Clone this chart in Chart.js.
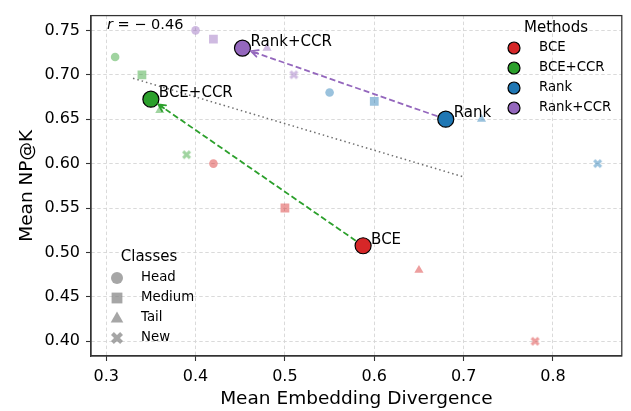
<!doctype html>
<html lang="en">
<head>
<meta charset="utf-8">
<title>NP@K vs embedding divergence</title>
<script src="https://cdn.jsdelivr.net/npm/chart.js@4.4.1/dist/chart.umd.min.js"></script>
<style>
  html, body { margin: 0; padding: 0; background: #fff; }
  canvas { display: block; }
</style>
</head>
<body>
<canvas id="myChart" width="631" height="411"></canvas>
<script>
// data
const methods = ['BCE', 'BCE+CCR', 'Rank', 'Rank+CCR'];
const classes = ['Head', 'Medium', 'Tail', 'New'];

// per class, in order Head, Medium, Tail, New
const divBCE = [0.42, 0.50, 0.65, 0.78];
const npkBCE = [0.60, 0.55, 0.48, 0.40];
const divBCECCR = [0.31, 0.34, 0.36, 0.39];
const npkBCECCR = [0.72, 0.70, 0.66, 0.61];
const divRank = [0.55, 0.60, 0.72, 0.85];
const npkRank = [0.68, 0.67, 0.65, 0.60];
const divRankCCR = [0.40, 0.42, 0.48, 0.51];
const npkRankCCR = [0.75, 0.74, 0.73, 0.70];

const trendX = [0.33, 0.70];
const trendY = [0.696, 0.585];
const corrText = '= − 0.46';

const xTicks = [0.3, 0.4, 0.5, 0.6, 0.7, 0.8];
const yTicks = [0.40, 0.45, 0.50, 0.55, 0.60, 0.65, 0.70, 0.75];

// arrows: from method -> to method
const arrowFrom = [0, 2];
const arrowTo = [1, 3];

const colors = ['#d62728', '#2ca02c', '#1f77b4', '#9467bd'];
const lightColors = ['rgba(214,39,40,0.45)', 'rgba(44,160,44,0.45)', 'rgba(31,119,180,0.45)', 'rgba(148,103,189,0.45)'];
const FONT = "'DejaVu Sans', sans-serif";

const allDiv = [divBCE, divBCECCR, divRank, divRankCCR];
const allNpk = [npkBCE, npkBCECCR, npkRank, npkRankCCR];
const mean = a => a.reduce((s, v) => s + v, 0) / a.length;
const meanX = allDiv.map(mean);
const meanY = allNpk.map(mean);

// filled "X" marker like matplotlib's 'X'
function xMarker(color, box) {
    const size = Math.ceil(box) + 2;
    const c = document.createElement('canvas');
    c.width = size; c.height = size;
    const g = c.getContext('2d');
    const T = box * 0.34;
    const L = box * Math.SQRT2 - T;
    g.translate(size / 2, size / 2);
    g.rotate(Math.PI / 4);
    g.fillStyle = color;
    g.beginPath();
    g.rect(-L / 2, -T / 2, L, T);
    g.rect(-T / 2, -L / 2, T, L);
    g.fill();
    return c;
}

const datasets = [];

// method means (on top)
datasets.push({
    label: 'methods',
    data: meanX.map((x, i) => ({ x: x, y: meanY[i] })),
    pointRadius: 8,
    pointBackgroundColor: colors,
    pointBorderColor: '#000',
    pointBorderWidth: 1.2,
    order: 0
});

// arrows
arrowFrom.forEach((f, k) => {
    const t = arrowTo[k];
    datasets.push({
        label: 'arrow' + k,
        data: [{ x: meanX[f], y: meanY[f] }, { x: meanX[t], y: meanY[t] }],
        showLine: true,
        borderColor: colors[t],
        borderWidth: 1.8,
        borderDash: [6, 3],
        pointRadius: 0,
        order: 1
    });
});

// per class points
allDiv.forEach((xs, m) => {
    datasets.push({
        label: methods[m] + ' classes',
        data: xs.map((x, i) => ({ x: x, y: allNpk[m][i] })),
        pointStyle: ['circle', 'rect', 'triangle', xMarker(lightColors[m], 9)],
        pointRadius: [4.3, 6.2, 5.3, 5],
        pointBackgroundColor: lightColors[m],
        pointBorderWidth: 0,
        order: 2
    });
});

// correlation trend
datasets.push({
    label: 'trend',
    data: trendX.map((x, i) => ({ x: x, y: trendY[i] })),
    showLine: true,
    borderColor: '#6f6f6f',
    borderWidth: 1.5,
    borderDash: [1.5, 3],
    pointRadius: 0,
    order: 3
});

function drawMarker(ctx, style, x, y, r, fill, stroke) {
    ctx.save();
    ctx.fillStyle = fill;
    ctx.beginPath();
    if (style === 'circle') {
        ctx.arc(x, y, r, 0, Math.PI * 2);
    } else if (style === 'rect') {
        ctx.rect(x - r * 0.9, y - r * 0.9, r * 1.8, r * 1.8);
    } else if (style === 'triangle') {
        ctx.moveTo(x, y - r * 1.1);
        ctx.lineTo(x + r * 1.05, y + r * 0.75);
        ctx.lineTo(x - r * 1.05, y + r * 0.75);
        ctx.closePath();
    }
    if (style === 'x') {
        const m = xMarker(fill, r * 2);
        ctx.drawImage(m, x - m.width / 2, y - m.height / 2);
    } else {
        ctx.fill();
        if (stroke) {
            ctx.strokeStyle = stroke;
            ctx.lineWidth = 1.2;
            ctx.stroke();
        }
    }
    ctx.restore();
}

const extras = {
    id: 'extras',
    afterDatasetsDraw(chart) {
        const ctx = chart.ctx;
        const xs = chart.scales.x, ys = chart.scales.y;
        // arrow heads (open "->" style)
        arrowFrom.forEach((f, k) => {
            const t = arrowTo[k];
            const sx = xs.getPixelForValue(meanX[f]), sy = ys.getPixelForValue(meanY[f]);
            const tx = xs.getPixelForValue(meanX[t]), ty = ys.getPixelForValue(meanY[t]);
            const d = Math.hypot(tx - sx, ty - sy);
            const ux = (tx - sx) / d, uy = (ty - sy) / d;
            const px = tx - ux * 9, py = ty - uy * 9;
            const bx = px - ux * 7, by = py - uy * 7;
            ctx.save();
            ctx.strokeStyle = colors[t];
            ctx.lineWidth = 1.8;
            ctx.lineCap = 'round';
            ctx.lineJoin = 'miter';
            ctx.beginPath();
            ctx.moveTo(bx - uy * 3.5, by + ux * 3.5);
            ctx.lineTo(px, py);
            ctx.lineTo(bx + uy * 3.5, by - ux * 3.5);
            ctx.moveTo(px, py);
            ctx.lineTo(bx, by);
            ctx.stroke();
            ctx.restore();
        });
        // method labels
        ctx.save();
        ctx.fillStyle = '#000';
        ctx.font = '15px ' + FONT;
        ctx.textAlign = 'left';
        ctx.textBaseline = 'middle';
        methods.forEach((name, i) => {
            const px = xs.getPixelForValue(meanX[i]), py = ys.getPixelForValue(meanY[i]);
            ctx.fillText(name, px + 8, py - 6);
        });
        // correlation
        ctx.font = 'italic 14.5px ' + FONT;
        ctx.fillText('r', 107, 25);
        const rw = ctx.measureText('r').width;
        ctx.font = '14.5px ' + FONT;
        ctx.fillText(' ' + corrText, 107 + rw, 25);
        ctx.restore();
    },
    afterDraw(chart) {
        const ctx = chart.ctx;
        const a = chart.chartArea;
        ctx.save();
        ctx.strokeStyle = '#333';
        ctx.lineWidth = 1.25;
        ctx.strokeRect(a.left, a.top, a.right - a.left, a.bottom - a.top);

        // Methods legend
        ctx.fillStyle = '#000';
        ctx.textBaseline = 'middle';
        ctx.font = '15px ' + FONT;
        ctx.textAlign = 'center';
        ctx.fillText('Methods', 556, 28);
        ctx.font = '13.3px ' + FONT;
        ctx.textAlign = 'left';
        methods.forEach((name, i) => {
            const y = 48 + i * 20;
            drawMarker(ctx, 'circle', 514, y, 6, colors[i], '#000');
            ctx.fillStyle = '#000';
            ctx.fillText(name, 539, y);
        });

        // Classes legend
        ctx.font = '15px ' + FONT;
        ctx.textAlign = 'center';
        ctx.fillText('Classes', 149, 257);
        ctx.font = '13.3px ' + FONT;
        ctx.textAlign = 'left';
        const styles = ['circle', 'rect', 'triangle', 'x'];
        classes.forEach((name, i) => {
            const y = 278 + i * 20;
            drawMarker(ctx, styles[i], 117, y, 6, 'rgba(128,128,128,0.7)');
            ctx.fillStyle = '#000';
            ctx.fillText(name, 141, y);
        });
        ctx.restore();
    }
};

const gridOpts = {
    color: '#d6d6d6',
    lineWidth: 0.9,
    tickColor: '#333',
    tickLength: 5,
    tickWidth: 1.1,
    tickBorderDash: []
};

new Chart(document.getElementById('myChart'), {
    type: 'scatter',
    data: { datasets: datasets },
    options: {
        responsive: false,
        animation: false,
        layout: { padding: { left: 0, right: 7, top: 9, bottom: 0 } },
        plugins: { legend: { display: false }, tooltip: { enabled: false } },
        scales: {
            x: {
                type: 'linear',
                min: 0.283,
                max: 0.877,
                afterBuildTicks: s => { s.ticks = xTicks.map(v => ({ value: v })); },
                afterFit: s => { s.height = 55; },
                ticks: {
                    callback: v => Number(v).toFixed(1),
                    font: { family: FONT, size: 16 },
                    color: '#000',
                    padding: 6
                },
                grid: gridOpts,
                border: { color: '#333', width: 1.25, dash: [3.5, 2.5] },
                title: {
                    display: true,
                    text: 'Mean Embedding Divergence',
                    font: { family: FONT, size: 18.5 },
                    color: '#000',
                    padding: { top: 0, bottom: 1 }
                }
            },
            y: {
                type: 'linear',
                min: 0.3834,
                max: 0.7666,
                afterBuildTicks: s => { s.ticks = yTicks.map(v => ({ value: v })); },
                afterFit: s => { s.width = 91; },
                ticks: {
                    callback: v => Number(v).toFixed(2),
                    font: { family: FONT, size: 16 },
                    color: '#000',
                    padding: 6
                },
                grid: gridOpts,
                border: { color: '#333', width: 1.25, dash: [3.5, 2.5] },
                title: {
                    display: true,
                    text: 'Mean NP@K',
                    font: { family: FONT, size: 18.5 },
                    color: '#000',
                    padding: { top: 16, bottom: 0 }
                }
            }
        }
    },
    plugins: [extras]
});
</script>
</body>
</html>
